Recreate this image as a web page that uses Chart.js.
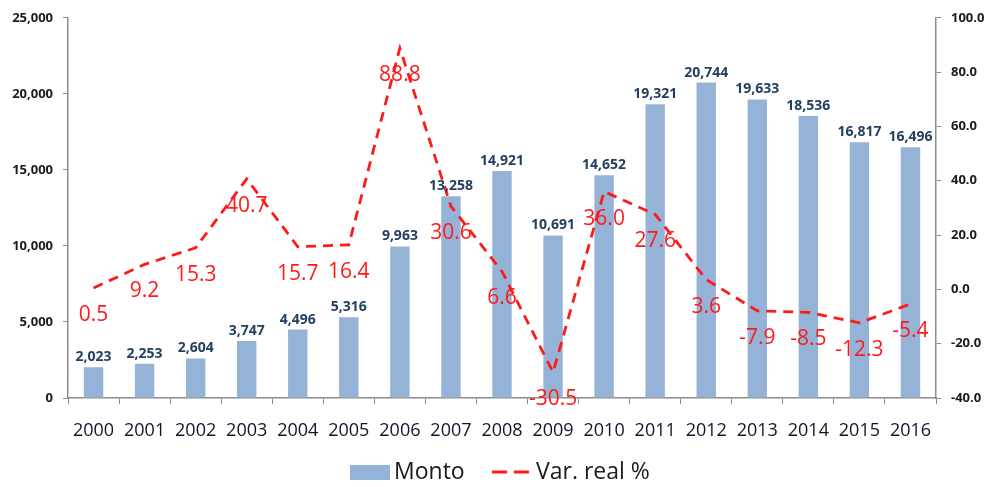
<!DOCTYPE html>
<html>
<head>
<meta charset="utf-8">
<script src="https://cdn.jsdelivr.net/npm/chart.js@4"></script>
<style>
  html, body { margin: 0; padding: 0; background: #fff; }
  #wrap { width: 989px; height: 487px; position: relative; }
</style>
</head>
<body>
<div id="wrap"><canvas id="chart" width="989" height="487"></canvas></div>
<script>
// ====================== DATA ======================
const years = ['2000','2001','2002','2003','2004','2005','2006','2007','2008',
               '2009','2010','2011','2012','2013','2014','2015','2016'];
const monto = [2023, 2253, 2604, 3747, 4496, 5316, 9963, 13258, 14921,
               10691, 14652, 19321, 20744, 19633, 18536, 16817, 16496];
const varReal = [0.5, 9.2, 15.3, 40.7, 15.7, 16.4, 88.8, 30.6, 6.6,
                 -30.5, 36.0, 27.6, 3.6, -7.9, -8.5, -12.3, -5.4];

const BAR_COLOR = '#95b3d7';
const LINE_COLOR = '#ff1a1a';
const FONT = "'Open Sans', 'Liberation Sans', sans-serif";

// ====================== LABELS & LEGEND ======================
const labelPlugin = {
  id: 'valueLabels',
  afterDatasetsDraw(chart) {
    const ctx = chart.ctx;
    ctx.save();
    // bar values
    const bars = chart.getDatasetMeta(0).data;
    ctx.font = 'bold 14px ' + FONT;
    ctx.fillStyle = '#243f60';
    ctx.textAlign = 'center';
    ctx.textBaseline = 'bottom';
    bars.forEach((b, i) => {
      ctx.fillText(monto[i].toLocaleString('en-US'), b.x, b.y - 3);
    });
    // line values
    const pts = chart.getDatasetMeta(1).data;
    ctx.font = '21px ' + FONT;
    ctx.fillStyle = LINE_COLOR;
    ctx.textBaseline = 'middle';
    pts.forEach((p, i) => {
      ctx.fillText(varReal[i].toFixed(1), p.x, p.y + 27);
    });
    ctx.restore();
  },
  afterDraw(chart) {
    const ctx = chart.ctx;
    ctx.save();
    const y = 472;
    ctx.fillStyle = BAR_COLOR;
    ctx.fillRect(350, 465, 40, 15);
    ctx.font = '23px ' + FONT;
    ctx.fillStyle = '#1a1a1a';
    ctx.textBaseline = 'middle';
    ctx.textAlign = 'left';
    ctx.fillText('Monto', 394, y);
    ctx.strokeStyle = LINE_COLOR;
    ctx.lineWidth = 3;
    ctx.setLineDash([15, 7]);
    ctx.beginPath();
    ctx.moveTo(492, y);
    ctx.lineTo(530, y);
    ctx.stroke();
    ctx.setLineDash([]);
    ctx.fillText('Var. real %', 536, y);
    ctx.restore();
  }
};

// ====================== CHART ======================
const axisGrey = '#8c8c8c';

new Chart(document.getElementById('chart'), {
  data: {
    labels: years,
    datasets: [
      {
        type: 'bar',
        label: 'Monto',
        data: monto,
        backgroundColor: BAR_COLOR,
        yAxisID: 'y',
        categoryPercentage: 1,
        barPercentage: 0.38,
        order: 2
      },
      {
        type: 'line',
        label: 'Var. real %',
        data: varReal,
        borderColor: LINE_COLOR,
        borderWidth: 2.8,
        borderDash: [10, 7],
        pointRadius: 0,
        tension: 0,
        fill: false,
        yAxisID: 'y1',
        order: 1
      }
    ]
  },
  options: {
    responsive: false,
    animation: false,
    layout: { padding: { top: 17, bottom: 44, left: 0, right: 0 } },
    plugins: {
      legend: { display: false },
      tooltip: { enabled: false }
    },
    scales: {
      x: {
        grid: { display: true, drawOnChartArea: false, drawTicks: true, tickLength: 6, color: axisGrey, offset: true },
        border: { display: true, color: axisGrey, width: 1.5 },
        ticks: { color: '#14142a', font: { family: FONT, size: 18 }, padding: 16, maxRotation: 0, autoSkip: false },
        afterFit(s) { s.height = 45; }
      },
      y: {
        position: 'left',
        min: 0, max: 25000,
        ticks: {
          stepSize: 5000,
          color: '#1a1a1a',
          font: { family: FONT, size: 13, weight: 'bold' },
          padding: 10,
          callback: v => v.toLocaleString('en-US')
        },
        grid: { display: true, drawOnChartArea: false, drawTicks: true, tickLength: 5, color: axisGrey },
        border: { display: true, color: axisGrey, width: 1.5 },
        afterFit(s) { s.width = 68; }
      },
      y1: {
        position: 'right',
        min: -40, max: 100,
        ticks: {
          stepSize: 20,
          color: '#1a1a1a',
          font: { family: FONT, size: 13, weight: 'bold' },
          padding: 10,
          callback: v => v.toFixed(1)
        },
        grid: { display: true, drawOnChartArea: false, drawTicks: true, tickLength: 5, color: axisGrey },
        border: { display: true, color: axisGrey, width: 1.5 },
        afterFit(s) { s.width = 53; }
      }
    }
  },
  plugins: [labelPlugin]
});
</script>
</body>
</html>
